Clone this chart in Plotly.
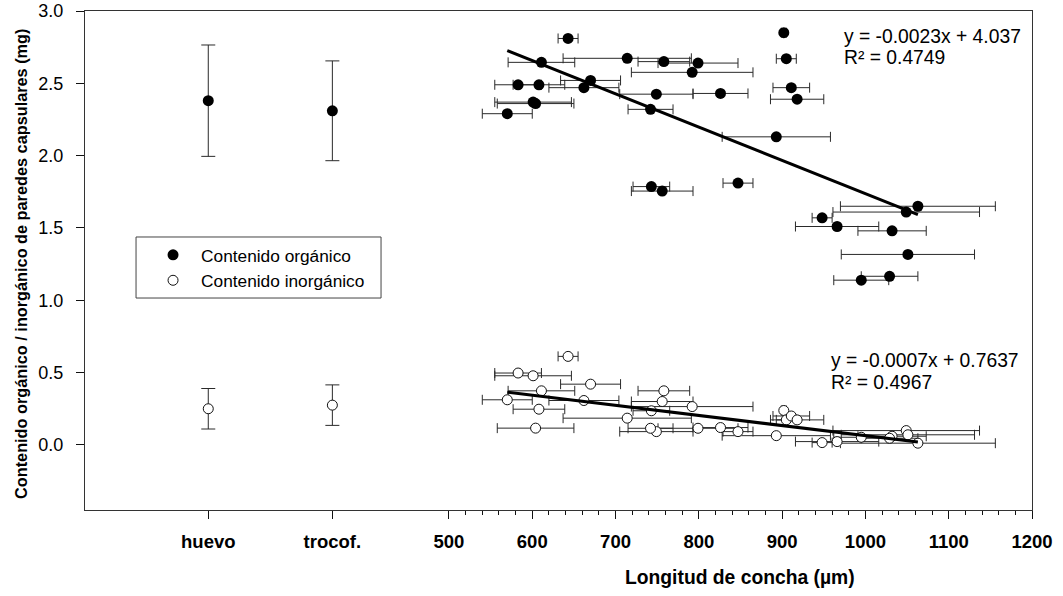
import plotly.graph_objects as go

# Developmental stages (no shell yet), shown on the left of the length axis
stages = ["huevo", "trocof."]
stage_organic = [2.38, 2.31]
stage_organic_err = [0.385, 0.345]
stage_inorganic = [0.25, 0.275]
stage_inorganic_err = [0.14, 0.14]

# Capsule walls vs. shell length (µm), mean ± SD of length
shell_length = [643, 611, 714, 758, 799, 792, 583, 608, 670, 662, 749, 826,
                601, 604, 570, 742, 893, 743, 756, 847, 902, 905, 911, 918,
                1063, 1049, 948, 966, 1032, 1051, 995, 1029]
shell_length_err = [12, 40, 77, 31, 48, 73, 28, 31, 36, 42, 44, 33,
                    46, 46, 30, 27, 65, 22, 37, 18, 3, 12, 22, 32,
                    93, 88, 12, 50, 41, 80, 33, 34]
organic = [2.81, 2.645, 2.673, 2.65, 2.64, 2.576, 2.49, 2.49, 2.52, 2.47, 2.425, 2.43,
           2.37, 2.36, 2.29, 2.32, 2.13, 1.786, 1.755, 1.81, 2.85, 2.67, 2.47, 2.39,
           1.65, 1.61, 1.57, 1.51, 1.48, 1.317, 1.139, 1.166]
inorganic = [0.612, 0.374, 0.185, 0.374, 0.115, 0.265, 0.497, 0.247, 0.42, 0.307, 0.092, 0.12,
             0.478, 0.116, 0.312, 0.115, 0.064, 0.236, 0.30, 0.092, 0.238, 0.173, 0.20, 0.173,
             0.012, 0.099, 0.016, 0.023, 0.06, 0.07, 0.053, 0.046]

# Linear fits: slope, intercept, R²
fit_organic = (-0.0023, 4.037, 0.4749)
fit_inorganic = (-0.0007, 0.7637, 0.4967)

length_ticks = [500, 600, 700, 800, 900, 1000, 1100, 1200]
y_ticks = [0.0, 0.5, 1.0, 1.5, 2.0, 2.5, 3.0]

# Where the two stage categories sit on the shared horizontal axis
STAGE_X = [211, 360]

FONT = "Arial, 'Liberation Sans', sans-serif"
INK = "#111111"
BAR = "#2a2a2a"

fig = go.Figure()

# Stage means with vertical error bars
fig.add_trace(go.Scatter(
    x=STAGE_X, y=stage_organic, mode="markers", showlegend=False,
    marker=dict(size=11, color="black", line=dict(width=0)),
    error_y=dict(type="data", array=stage_organic_err, color=BAR, thickness=1, width=7),
))
fig.add_trace(go.Scatter(
    x=STAGE_X, y=stage_inorganic, mode="markers", showlegend=False,
    marker=dict(size=10, color="white", line=dict(width=1, color=INK)),
    error_y=dict(type="data", array=stage_inorganic_err, color=BAR, thickness=1, width=7),
))

# Shell-length samples with horizontal error bars
fig.add_trace(go.Scatter(
    x=shell_length, y=organic, mode="markers", name="Contenido orgánico",
    marker=dict(size=11, color="black", line=dict(width=0)),
    error_x=dict(type="data", array=shell_length_err, color=BAR, thickness=1, width=5),
))
fig.add_trace(go.Scatter(
    x=shell_length, y=inorganic, mode="markers", name="Contenido inorgánico",
    marker=dict(size=10, color="white", line=dict(width=1, color=INK)),
    error_x=dict(type="data", array=shell_length_err, color=BAR, thickness=1, width=5),
))

# Regression lines over the measured length range
x_lo, x_hi = min(shell_length), max(shell_length)
for slope, intercept, _ in (fit_organic, fit_inorganic):
    fig.add_trace(go.Scatter(
        x=[x_lo, x_hi], y=[slope * x_lo + intercept, slope * x_hi + intercept],
        mode="lines", showlegend=False, hoverinfo="skip",
        line=dict(color="black", width=3),
    ))

def equation(fit):
    slope, intercept, r2 = fit
    return f"y = {slope:.4f}x + {intercept:g}", f"R² = {r2:.4f}"

eq_font = dict(family=FONT, size=19.3, color="black")
annotations = []
for fit, xp, y1, y2 in ((fit_organic, 0.7994, 0.948, 0.906),
                        (fit_inorganic, 0.7856, 0.2986, 0.2565)):
    line1, line2 = equation(fit)
    annotations.append(dict(text=line1, xref="paper", yref="paper", x=xp, y=y1,
                            xanchor="left", yanchor="middle", showarrow=False, font=eq_font))
    annotations.append(dict(text=line2, xref="paper", yref="paper", x=xp, y=y2,
                            xanchor="left", yanchor="middle", showarrow=False, font=eq_font))

# Axis titles
annotations.append(dict(
    text="<b>Longitud de concha (µm)</b>", xref="x", yref="paper",
    x=(length_ticks[0] + length_ticks[-1]) / 2, y=-0.136,
    xanchor="center", yanchor="middle", showarrow=False,
    font=dict(family=FONT, size=19.3, color="black"),
))
annotations.append(dict(
    text="<b>Contenido orgánico / inorgánico de paredes capsulares (mg)</b>",
    xref="paper", yref="paper", x=-0.0676, y=0.493, textangle=-90,
    xanchor="center", yanchor="middle", showarrow=False,
    font=dict(family=FONT, size=16.3, color="black"),
))

minor_vals = [v for v in range(length_ticks[0], length_ticks[-1] + 1, 20)
              if v not in length_ticks]

# Framed legend box
shapes = [dict(type="rect", xref="paper", yref="paper",
               x0=0.0539, x1=0.3126, y0=0.4248, y1=0.5471,
               line=dict(color="#444444", width=1), fillcolor="white", layer="below")]

fig.update_layout(
    width=1063, height=596,
    margin=dict(l=85, r=31, t=11, b=86),
    paper_bgcolor="white", plot_bgcolor="white",
    font=dict(family=FONT, color="black"),
    annotations=annotations,
    shapes=shapes,
    legend=dict(
        x=0.0634, y=0.547, xanchor="left", yanchor="top",
        bgcolor="rgba(0,0,0,0)", borderwidth=0,
        font=dict(family=FONT, size=17.3, color="black"),
        itemwidth=46, tracegroupgap=0,
    ),
    xaxis=dict(
        range=[63, 1200], automargin=False,
        tickmode="array",
        tickvals=STAGE_X + length_ticks,
        ticktext=stages + [str(v) for v in length_ticks],
        tickfont=dict(family=FONT, size=18.5, color="black", weight="bold"),
        ticks="outside", ticklen=8, tickcolor=INK, tickwidth=1,
        ticklabelstandoff=7,
        minor=dict(tickvals=minor_vals, ticks="outside", ticklen=4,
                   tickcolor=INK, tickwidth=1, showgrid=False),
        showline=True, linecolor="#333333", linewidth=1, mirror=True,
        showgrid=False, zeroline=False,
    ),
    yaxis=dict(
        range=[-0.45, 3.0], automargin=False,
        tickmode="array", tickvals=y_ticks,
        ticktext=[f"{v:.1f}" for v in y_ticks],
        tickfont=dict(family=FONT, size=18, color="black"),
        ticks="outside", ticklen=8, tickcolor=INK, tickwidth=1,
        ticklabelstandoff=9,
        showline=True, linecolor="#333333", linewidth=1, mirror=True,
        showgrid=False, zeroline=False,
    ),
)

fig.write_html("out.html")
